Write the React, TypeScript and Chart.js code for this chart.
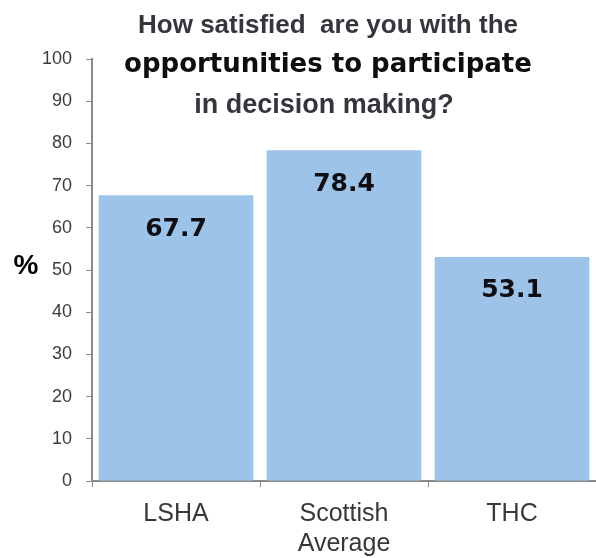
import React, { useEffect, useRef } from "react";
import { Chart, registerables } from "chart.js";

Chart.register(...registerables);

const categories: (string | string[])[] = ["LSHA", ["Scottish", "Average"], "THC"];
const values: number[] = [67.7, 78.4, 53.1];
const valueLabels: string[] = ["67.7", "78.4", "53.1"];
const yTicks: number[] = [0, 10, 20, 30, 40, 50, 60, 70, 80, 90, 100];
const titleLines: string[] = [
  "How satisfied  are you with the",
  "opportunities to participate",
  "in decision making?",
];
const axisLabel = "%";

const BAR_COLOR = "#9dc3e8";
const AXIS_COLOR = "#8a8a8a";

const overlayPlugin = {
  id: "overlay",
  afterDatasetsDraw(chart: any) {
    const ctx = chart.ctx;
    const meta = chart.getDatasetMeta(0);
    ctx.save();
    ctx.fillStyle = "#0e0e14";
    ctx.font = "bold 25px 'DejaVu Sans'";
    ctx.textAlign = "center";
    ctx.textBaseline = "middle";
    meta.data.forEach((bar: any, i: number) => {
      ctx.fillText(valueLabels[i], bar.x, bar.y + 34);
    });
    ctx.restore();
  },
  afterDraw(chart: any) {
    const ctx = chart.ctx;
    ctx.save();
    ctx.textAlign = "center";
    ctx.textBaseline = "alphabetic";
    const cx = 328;
    ctx.fillStyle = "#38343e";
    ctx.font = "bold 26px 'Liberation Sans'";
    ctx.fillText(titleLines[0], cx, 33);
    ctx.fillStyle = "#0e0e0e";
    ctx.font = "bold 26px 'DejaVu Sans'";
    ctx.fillText(titleLines[1], cx, 72);
    ctx.fillStyle = "#38343e";
    ctx.font = "bold 27px 'Liberation Sans'";
    ctx.fillText(titleLines[2], cx - 4, 113);
    ctx.fillStyle = "#000000";
    ctx.font = "bold 28px 'Liberation Sans'";
    ctx.textBaseline = "middle";
    ctx.fillText(axisLabel, 26, 266);
    ctx.restore();
  },
};

export default function App() {
  const ref = useRef<HTMLCanvasElement | null>(null);
  useEffect(() => {
    if (!ref.current) return;
    const chart = new Chart(ref.current, {
      type: "bar",
      data: {
        labels: categories as any,
        datasets: [
          {
            data: values,
            backgroundColor: BAR_COLOR,
            borderWidth: 0,
            categoryPercentage: 1,
            barPercentage: 0.92,
          },
        ],
      },
      options: {
        animation: false,
        responsive: false,
        layout: { padding: { top: 59, left: 0, right: 0, bottom: 0 } },
        plugins: {
          legend: { display: false },
          title: { display: false },
          tooltip: { enabled: false },
        },
        scales: {
          x: {
            offset: true,
            grid: {
              offset: true,
              drawOnChartArea: false,
              drawTicks: true,
              tickLength: 6,
              color: AXIS_COLOR,
            },
            border: { display: true, color: AXIS_COLOR, width: 2 },
            ticks: {
              color: "#383838",
              font: { family: "'Liberation Sans'", size: 25 },
              padding: 12,
              maxRotation: 0,
              autoSkip: false,
            },
            afterFit(scale: any) {
              scale.height = 77;
            },
          },
          y: {
            min: 0,
            max: 100,
            afterBuildTicks(scale: any) {
              scale.ticks = yTicks.map((v) => ({ value: v }));
            },
            grid: {
              drawOnChartArea: false,
              drawTicks: true,
              tickLength: 6,
              color: AXIS_COLOR,
            },
            border: { display: true, color: AXIS_COLOR, width: 2 },
            ticks: {
              color: "#3c3c3c",
              font: { family: "'Liberation Sans'", size: 18 },
              padding: 14,
            },
            afterFit(scale: any) {
              scale.width = 92;
            },
          },
        },
      },
      plugins: [overlayPlugin],
    });
    return () => chart.destroy();
  }, []);
  return (
    <div style={{ position: "absolute", left: 0, top: 0, width: 596, height: 558, background: "#ffffff" }}>
      <canvas ref={ref} width={596} height={558} style={{ display: "block" }} />
    </div>
  );
}
